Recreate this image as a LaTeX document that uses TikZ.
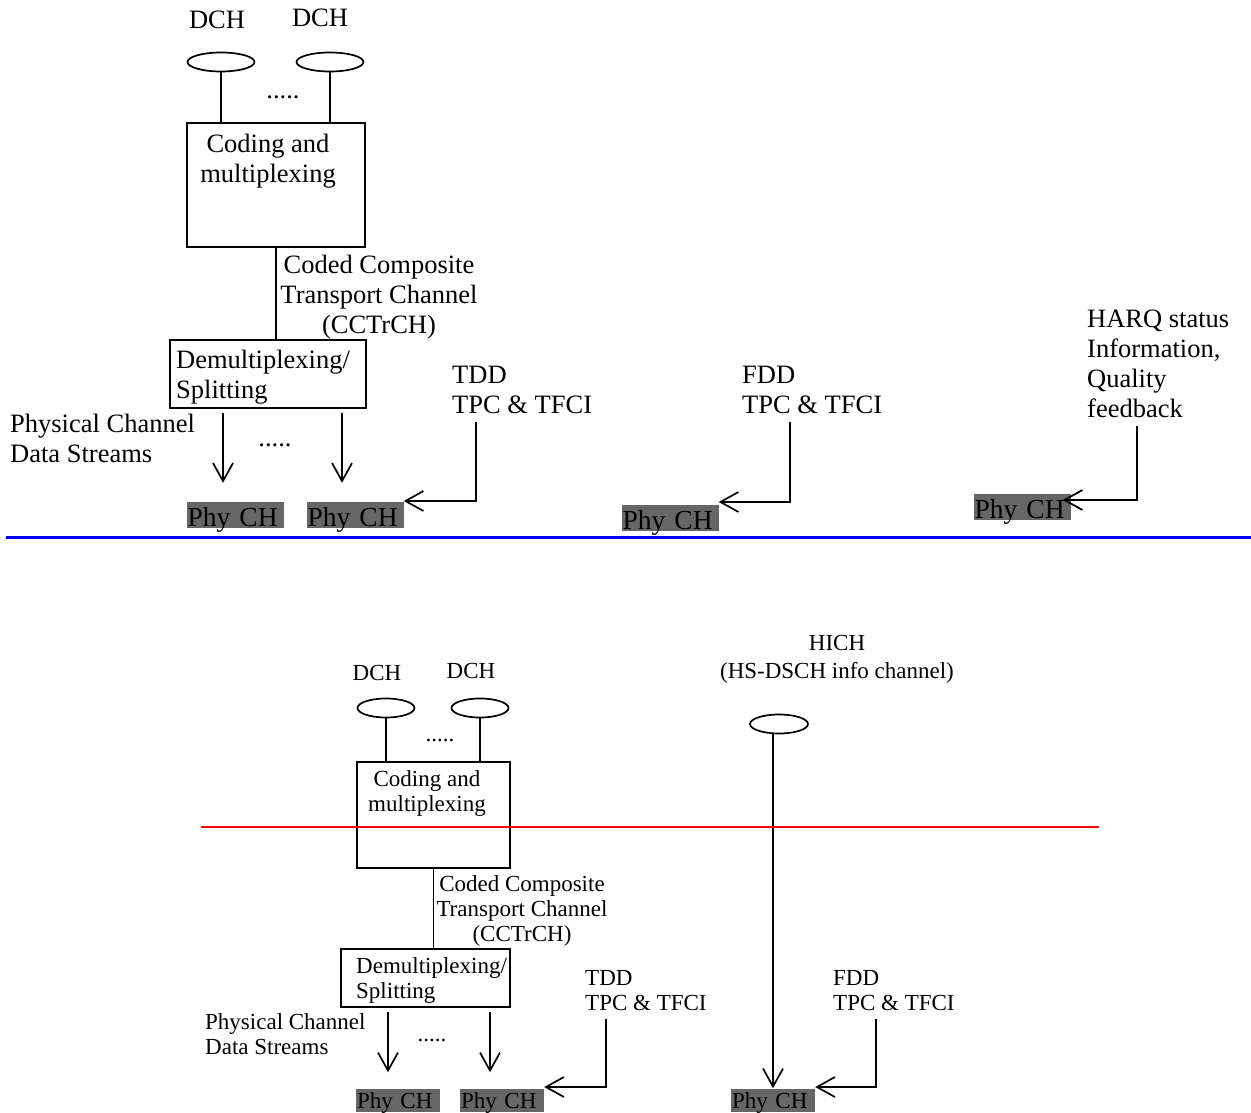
\documentclass[tikz,border=0pt]{standalone}
\usepackage{fontspec}
\setmainfont{Liberation Serif}
\usetikzlibrary{arrows.meta, positioning, shapes.geometric}
\definecolor{PhyGray}{RGB}{102,102,102}
\definecolor{CutBlue}{RGB}{0,0,255}
\definecolor{CutRed}{RGB}{255,0,0}

\begin{document}
\begin{tikzpicture}[
    x=1pt, y=-1pt,
    big/.style={font={\fontsize{26.5}{30}\selectfont}},
    small/.style={font={\fontsize{23}{25}\selectfont}},
    txt/.style={inner sep=0pt},
    chan/.style={ellipse, draw, line width=1.7pt, inner sep=0pt, minimum height=19pt},
    block/.style={rectangle, draw, line width=1.7pt, inner sep=0pt},
    phy/.style={fill=PhyGray, inner xsep=1pt, inner ysep=0pt, align=left},
    bigphy/.style={phy, font={\fontsize{27.5}{30}\selectfont}, text width=95pt, text height=24pt, text depth=2pt},
    smallphy/.style={phy, font={\fontsize{23}{25}\selectfont}, text width=82pt, text height=20pt, text depth=3pt},
    link/.style={line width=1.7pt},
    arr/.style={line width=1.7pt, -{Straight Barb[length=18pt,width=20pt]}}
  ]
  \useasboundingbox (0,0) rectangle (1251,1113);

  % upper part
  \node[big, txt] (dch1) at (217,20) {DCH};
  \node[big, txt] (dch2) at (320,18) {DCH};
  \node[chan, minimum width=67pt] (ch1) at (221,62) {};
  \node[chan, minimum width=67pt] (ch2) at (330,62) {};
  \node[big, txt] (dots1) at (283,97) {.....};
  \node[block, minimum width=178pt, minimum height=124pt] (cod) at (276,185) {};
  \node[big, txt, align=center] (codtxt) at (268,161) {Coding and\\multiplexing};
  \node[big, txt, align=center] (cct) at (379,297) {Coded Composite\\Transport Channel\\(CCTrCH)};
  \node[block, minimum width=196pt, minimum height=68pt] (dmx) at (268,374) {};
  \node[big, txt, align=left, anchor=west] (dmxtxt) at (176,377) {Demultiplexing/\\Splitting};
  \node[big, txt, align=left, anchor=west] (pcds) at (10,438) {Physical Channel\\Data Streams};
  \node[big, txt] (dots2) at (275,445) {.....};
  \node[big, txt, align=left, anchor=west] (tdd) at (452,390) {TDD\\TPC \& TFCI};
  \node[big, txt, align=left, anchor=west] (fdd) at (742,390) {FDD\\TPC \& TFCI};
  \node[big, txt, align=left, anchor=west] (harq) at (1087,364) {HARQ status\\Information,\\Quality\\feedback};

  \node[bigphy] (phy1) at (235,515) {Phy CH};
  \node[bigphy] (phy2) at (355,515) {Phy CH};
  \node[bigphy] (phy3) at (670,518) {Phy CH};
  \node[bigphy] (phy4) at (1022,507) {Phy CH};

  \coordinate (tddk) at (476,501);
  \coordinate (fddk) at (790,502);
  \coordinate (harqk) at (1137,500);

  \draw[link] (ch1.south) -- (ch1.south |- cod.north);
  \draw[link] (ch2.south) -- (ch2.south |- cod.north);
  \draw[link] (cod.south) -- (cod.south |- dmx.north);
  \draw[arr, shorten <=4pt] ([xshift=-12pt]phy1.north |- dmx.south) -- ([xshift=-12pt, yshift=19pt]phy1.north);
  \draw[arr, shorten <=4pt] ([xshift=-13pt]phy2.north |- dmx.south) -- ([xshift=-13pt, yshift=19pt]phy2.north);
  \draw[arr] ([yshift=-8pt]tdd.south -| tddk) -- (tddk) -- (tddk -| phy2.east);
  \draw[arr] ([yshift=-8pt]fdd.south -| fddk) -- (fddk) -- (fddk -| phy3.east);
  \draw[arr] ([yshift=-8pt]harq.south -| harqk) -- (harqk) -- ([xshift=-8pt]harqk -| phy4.east);

  \draw[CutBlue, line width=3pt] (6,537) -- (1251,537);

  % lower part
  \node[small, txt] (dch3) at (377,673) {DCH};
  \node[small, txt] (dch4) at (471,671) {DCH};
  \node[chan, minimum width=57pt] (ch3) at (386,708) {};
  \node[chan, minimum width=57pt] (ch4) at (480,708) {};
  \node[small, txt] (dots3) at (440,740) {.....};
  \node[block, minimum width=153pt, minimum height=106pt] (cod2) at (433.5,815) {};
  \node[small, txt, align=center] (codtxt2) at (427,793) {Coding and\\multiplexing};
  \node[small, txt, align=center] (cct2) at (522,911) {Coded Composite\\Transport Channel\\(CCTrCH)};
  \node[block, minimum width=169pt, minimum height=58pt] (dmx2) at (425.5,978) {};
  \node[small, txt, align=left, anchor=west] (dmxtxt2) at (356,980) {Demultiplexing/\\Splitting};
  \node[small, txt, align=left, anchor=west] (pcds2) at (205,1034) {Physical Channel\\Data Streams};
  \node[small, txt] (dots4) at (432,1040) {.....};
  \node[small, txt, align=left, anchor=west] (tdd2) at (585,991) {TDD\\TPC \& TFCI};
  \node[txt, align=center, font={\fontsize{23}{28}\selectfont}] (hich) at (837,659) {HICH\\(HS-DSCH info channel)};
  \node[chan, minimum width=58pt] (ch5) at (779,724) {};
  \node[small, txt, align=left, anchor=west] (fdd2) at (833,991) {FDD\\TPC \& TFCI};

  \node[smallphy] (phy5) at (398,1100) {Phy CH};
  \node[smallphy] (phy6) at (502,1100) {Phy CH};
  \node[smallphy] (phy7) at (773,1100) {Phy CH};

  \coordinate (tdd2k) at (606,1087);
  \coordinate (fdd2k) at (876,1087);

  \draw[link] (ch3.south) -- (ch3.south |- cod2.north);
  \draw[link] (ch4.south) -- (ch4.south |- cod2.north);
  \draw[link] (cod2.south) -- (cod2.south |- dmx2.north);
  \draw[arr, shorten <=4pt] ([xshift=-10pt]phy5.north |- dmx2.south) -- ([xshift=-10pt, yshift=16pt]phy5.north);
  \draw[arr, shorten <=4pt] ([xshift=-12pt]phy6.north |- dmx2.south) -- ([xshift=-12pt, yshift=16pt]phy6.north);
  \draw[arr] ([yshift=-8pt]tdd2.south -| tdd2k) -- (tdd2k) -- (tdd2k -| phy6.east);
  \draw[arr] (ch5.south -| phy7.north) -- (phy7.north);
  \draw[arr] ([yshift=-8pt]fdd2.south -| fdd2k) -- (fdd2k) -- (fdd2k -| phy7.east);

  \draw[CutRed, line width=2.5pt] (201,827) -- (1099,827);
\end{tikzpicture}
\end{document}
